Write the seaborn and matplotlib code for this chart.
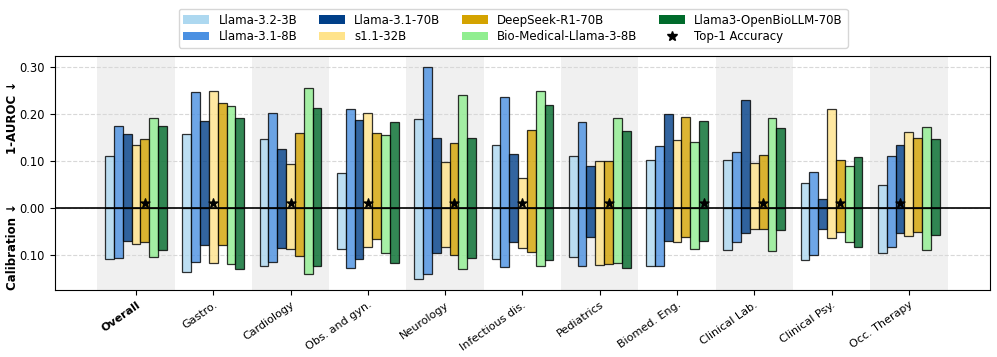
import pandas as pd
import numpy as np
import matplotlib
matplotlib.use("Agg")
import matplotlib.pyplot as plt
import matplotlib.ticker as ticker
import matplotlib.transforms as transforms
from matplotlib.patches import Patch
from matplotlib.lines import Line2D
import seaborn as sns

# categories and models
specialties = ['Overall', 'Gastro.', 'Cardiology', 'Obs. and gyn.', 'Neurology',
               'Infectious dis.', 'Pediatrics', 'Biomed. Eng.', 'Clinical Lab.',
               'Clinical Psy.', 'Occ. Therapy']
models = ['Llama-3.2-3B', 'Llama-3.1-8B', 'Llama-3.1-70B', 's1.1-32B',
          'DeepSeek-R1-70B', 'Bio-Medical-Llama-3-8B', 'Llama3-OpenBioLLM-70B']
colors = ['#add8f0', '#4a90e2', '#003f88', '#ffe38a', '#d4a300', '#90ee90', '#006b2b']

# 1-AUROC (upper bars), one list per model across specialties
auroc_3b = [0.111, 0.157, 0.147, 0.074, 0.190, 0.134, 0.112, 0.103, 0.102, 0.053, 0.049]
auroc_8b = [0.174, 0.248, 0.202, 0.212, 0.301, 0.236, 0.184, 0.132, 0.120, 0.077, 0.112]
auroc_70b = [0.159, 0.186, 0.126, 0.188, 0.150, 0.115, 0.089, 0.200, 0.230, 0.020, 0.135]
auroc_s1 = [0.135, 0.250, 0.095, 0.203, 0.098, 0.064, 0.100, 0.146, 0.097, 0.212, 0.162]
auroc_ds = [0.147, 0.224, 0.161, 0.160, 0.138, 0.166, 0.101, 0.194, 0.113, 0.102, 0.150]
auroc_bio8 = [0.192, 0.217, 0.257, 0.155, 0.241, 0.250, 0.191, 0.140, 0.191, 0.089, 0.172]
auroc_bio70 = [0.174, 0.191, 0.214, 0.183, 0.150, 0.220, 0.164, 0.186, 0.170, 0.108, 0.147]

# calibration error (lower bars)
calib_3b = [0.109, 0.136, 0.123, 0.087, 0.151, 0.109, 0.104, 0.124, 0.088, 0.111, 0.096]
calib_8b = [0.106, 0.114, 0.115, 0.127, 0.140, 0.126, 0.123, 0.124, 0.071, 0.099, 0.082]
calib_70b = [0.070, 0.079, 0.084, 0.109, 0.095, 0.073, 0.061, 0.069, 0.053, 0.044, 0.053]
calib_s1 = [0.076, 0.116, 0.087, 0.082, 0.083, 0.085, 0.121, 0.071, 0.045, 0.064, 0.059]
calib_ds = [0.072, 0.078, 0.102, 0.065, 0.099, 0.093, 0.118, 0.062, 0.045, 0.050, 0.050]
calib_bio8 = [0.104, 0.118, 0.140, 0.096, 0.130, 0.123, 0.117, 0.086, 0.092, 0.071, 0.090]
calib_bio70 = [0.089, 0.129, 0.123, 0.117, 0.106, 0.110, 0.128, 0.070, 0.047, 0.082, 0.057]

# index of the model with top-1 accuracy per specialty
top1_model = [4, 3, 3, 3, 4, 3, 4, 6, 4, 4, 2]
top1_marker_y = 0.01

auroc = [auroc_3b, auroc_8b, auroc_70b, auroc_s1, auroc_ds, auroc_bio8, auroc_bio70]
calib = [calib_3b, calib_8b, calib_70b, calib_s1, calib_ds, calib_bio8, calib_bio70]

rows = []
for m, a_vals, c_vals in zip(models, auroc, calib):
    for s, a, c in zip(specialties, a_vals, c_vals):
        rows.append({'specialty': s, 'model': m, 'auroc': a, 'calib': -c})
df = pd.DataFrame(rows)

fs = 8
fig = plt.figure(figsize=(9.97, 3.57), dpi=100)
ax = fig.add_axes([0.055, 0.188, 0.938, 0.655])

# alternating background bands
for i in range(0, len(specialties), 2):
    ax.axvspan(i - 0.5, i + 0.5, color='#f0f0f0', zorder=0, lw=0)

palette = dict(zip(models, colors))
for col in ['auroc', 'calib']:
    sns.barplot(data=df, x='specialty', y=col, hue='model', order=specialties,
                hue_order=models, palette=palette, saturation=1, width=0.8,
                alpha=0.8, edgecolor='black', linewidth=0.9, legend=False,
                errorbar=None, ax=ax, zorder=2)

# top-1 accuracy stars
bar_w = 0.8 / len(models)
star_x = [i + (m - (len(models) - 1) / 2) * bar_w for i, m in enumerate(top1_model)]
ax.scatter(star_x, [top1_marker_y] * len(star_x), marker='*', s=45, color='black', zorder=4)

ax.axhline(0, color='black', lw=1.2, zorder=3)
ax.set_ylim(-0.174, 0.324)
ax.set_xlim(-1.05, 11.05)
ax.set_yticks([-0.1, 0.0, 0.1, 0.2, 0.3])
ax.yaxis.set_major_formatter(ticker.FuncFormatter(lambda v, p: f'{abs(v):.2f}'))
ax.yaxis.grid(True, linestyle='--', color='#d8d8d8', lw=0.8, zorder=1)
ax.set_axisbelow(True)
ax.tick_params(labelsize=fs + 0.3)

ax.set_xlabel('')
ax.set_ylabel('')
ax.set_xticks(range(len(specialties)))
ax.set_xticklabels(specialties, rotation=35, ha='right', rotation_mode='anchor', fontsize=fs)
ax.get_xticklabels()[0].set_fontweight('bold')

trans = transforms.blended_transform_factory(ax.transAxes, ax.transData)
ax.text(-0.045, 0.194, '1-AUROC ↓', rotation=90, ha='center', va='center',
        fontweight='bold', fontsize=8.5, transform=trans)
ax.text(-0.045, -0.082, 'Calibration ↓', rotation=90, ha='center', va='center',
        fontweight='bold', fontsize=8.5, transform=trans)

handles = [Patch(facecolor=c, label=m) for m, c in zip(models, colors)]
handles.append(Line2D([], [], marker='*', color='black', linestyle='None',
                      markersize=7, label='Top-1 Accuracy'))
ax.legend(handles=handles, ncol=4, loc='lower center', bbox_to_anchor=(0.49, 1.01),
          fontsize=8.5, frameon=True, handlelength=2.2, handletextpad=0.8,
          columnspacing=1.8, borderpad=0.4, labelspacing=0.3)

fig.savefig('out.png', dpi=100)
